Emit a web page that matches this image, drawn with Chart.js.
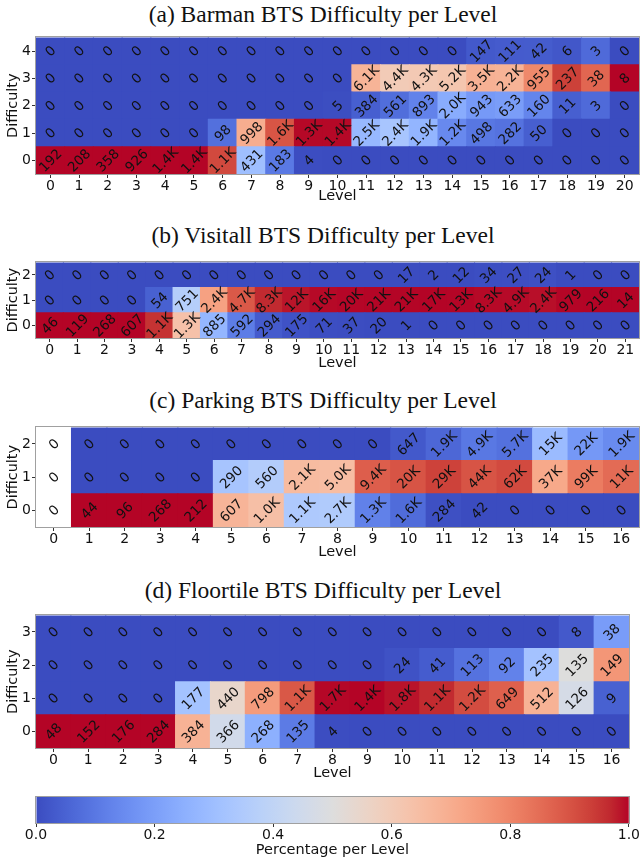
<!DOCTYPE html>
<html>
<head>
<meta charset="utf-8">
<script src="https://cdn.jsdelivr.net/npm/chart.js@4.4.1/dist/chart.umd.min.js"></script>
<style>
  body { margin: 0; background: #fff; width: 640px; height: 863px; position: relative; overflow: hidden; }
  .title { position: absolute; left: 0; width: 646px; text-align: center; font-family: "Liberation Serif", serif; font-size: 23.5px; line-height: 28px; color: #111; }
  canvas { position: absolute; left: 0; }
</style>
</head>
<body>
<div class="title" style="top:0px">(a) Barman BTS Difficulty per Level</div>
<div class="title" style="top:221px">(b) Visitall BTS Difficulty per Level</div>
<div class="title" style="top:386px">(c) Parking BTS Difficulty per Level</div>
<div class="title" style="top:576px">(d) Floortile BTS Difficulty per Level</div>
<script>
// ---- data: counts[difficulty][level] ----
const barmanLevels = ["0","1","2","3","4","5","6","7","8","9","10","11","12","13","14","15","16","17","18","19","20"];
const barmanDifficulties = [0, 1, 2, 3, 4];
const barmanCounts = [
  [192, 208, 358, 926, 1400, 1400, 1100, 431, 183, 4, 0, 0, 0, 0, 0, 0, 0, 0, 0, 0, 0],
  [0, 0, 0, 0, 0, 0, 98, 998, 1600, 1300, 1400, 2500, 2400, 1900, 1200, 498, 282, 50, 0, 0, 0],
  [0, 0, 0, 0, 0, 0, 0, 0, 0, 0, 5, 384, 561, 893, 2000, 943, 633, 160, 11, 3, 0],
  [0, 0, 0, 0, 0, 0, 0, 0, 0, 0, 0, 6100, 4400, 4300, 5200, 3500, 2200, 955, 237, 38, 8],
  [0, 0, 0, 0, 0, 0, 0, 0, 0, 0, 0, 0, 0, 0, 0, 147, 111, 42, 6, 3, 0]
];

const visitallLevels = ["0","1","2","3","4","5","6","7","8","9","10","11","12","13","14","15","16","17","18","19","20","21"];
const visitallDifficulties = [0, 1, 2];
const visitallCounts = [
  [46, 119, 268, 607, 1100, 1300, 885, 592, 294, 175, 71, 37, 20, 1, 0, 0, 0, 0, 0, 0, 0, 0],
  [0, 0, 0, 0, 54, 751, 2400, 4700, 8300, 12000, 16000, 20000, 21000, 21000, 17000, 13000, 8300, 4900, 2400, 979, 216, 14],
  [0, 0, 0, 0, 0, 0, 0, 0, 0, 0, 0, 0, 0, 17, 2, 12, 34, 27, 24, 1, 0, 0]
];

const parkingLevels = ["0","1","2","3","4","5","6","7","8","9","10","11","12","13","14","15","16"];
const parkingDifficulties = [0, 1, 2];
const parkingCounts = [
  [0, 44, 96, 268, 212, 607, 1000, 1100, 2700, 1300, 1600, 284, 42, 0, 0, 0, 0],
  [0, 0, 0, 0, 0, 290, 560, 2100, 5000, 9400, 20000, 29000, 44000, 62000, 37000, 99000, 11000],
  [0, 0, 0, 0, 0, 0, 0, 0, 0, 0, 647, 1900, 4900, 5700, 15000, 22000, 1900]
];

const floortileLevels = ["0","1","2","3","4","5","6","7","8","9","10","11","12","13","14","15","16"];
const floortileDifficulties = [0, 1, 2, 3];
const floortileCounts = [
  [48, 152, 176, 284, 384, 366, 268, 135, 4, 0, 0, 0, 0, 0, 0, 0, 0],
  [0, 0, 0, 0, 177, 440, 798, 1100, 1700, 1400, 1800, 1100, 1200, 649, 512, 126, 9],
  [0, 0, 0, 0, 0, 0, 0, 0, 0, 0, 24, 41, 113, 92, 235, 135, 149],
  [0, 0, 0, 0, 0, 0, 0, 0, 0, 0, 0, 0, 0, 0, 0, 8, 38]
];

const colorbarTicks = [0, 0.2, 0.4, 0.6, 0.8, 1.0];

// matplotlib "coolwarm" (Moreland) control points
const coolwarm = [
  [59,76,192],[68,90,204],[77,104,215],[87,117,225],[98,130,234],[108,142,241],[119,154,247],
  [130,165,251],[141,176,254],[152,185,255],[163,194,255],[174,201,253],[184,208,249],
  [194,213,244],[204,217,238],[213,219,230],[221,221,221],[229,216,209],[236,211,197],
  [241,204,185],[245,196,173],[247,187,160],[247,177,148],[247,166,135],[244,154,123],
  [241,141,111],[236,127,99],[229,112,88],[222,96,77],[213,80,66],[203,62,56],[192,40,47],[180,4,38]
];

function cmap(t) {
  const p = Math.min(Math.max(t, 0), 1) * (coolwarm.length - 1);
  const i = Math.min(Math.floor(p), coolwarm.length - 2);
  const f = p - i;
  const a = coolwarm[i], b = coolwarm[i + 1];
  return "rgb(" + [0, 1, 2].map(k => Math.round(a[k] + (b[k] - a[k]) * f)).join(",") + ")";
}

function fmtCount(v) {
  if (v >= 10000) return Math.round(v / 1000) + "K";
  if (v >= 1000) return (v / 1000).toFixed(1) + "K";
  return String(v);
}

const FONT = "DejaVu Sans";

// write the count in every cell, rotated like the original
const cellLabels = {
  id: "cellLabels",
  afterDatasetsDraw(chart) {
    const ctx = chart.ctx;
    ctx.save();
    ctx.font = "13.5px '" + FONT + "'";
    ctx.fillStyle = "#111";
    ctx.textAlign = "center";
    ctx.textBaseline = "middle";
    chart.data.datasets.forEach((ds, di) => {
      if (!ds.counts) return;
      chart.getDatasetMeta(di).data.forEach((el, i) => {
        ctx.save();
        ctx.translate(el.x, (el.y + el.base) / 2);
        ctx.rotate(-Math.PI / 4);
        ctx.fillText(fmtCount(ds.counts[i]), 0, 1);
        ctx.restore();
      });
    });
    ctx.restore();
  }
};

// thin frame round the plot (matplotlib spines)
const frame = {
  id: "frame",
  afterDraw(chart) {
    const a = chart.chartArea, ctx = chart.ctx;
    ctx.save();
    ctx.strokeStyle = "#a0a0a0";
    ctx.lineWidth = 1;
    ctx.strokeRect(Math.round(a.left) - 0.5, Math.round(a.top) - 0.5,
      Math.round(a.right - a.left) + 1, Math.round(a.bottom - a.top) + 1);
    ctx.restore();
  }
};

function addCanvas(top, height) {
  const c = document.createElement("canvas");
  c.width = 640;
  c.height = height;
  c.style.top = top + "px";
  document.body.appendChild(c);
  return c;
}

function heatmap(top, plotHeight, xAxisHeight, rightPad, levels, difficulties, counts) {
  const canvas = addCanvas(top, 2 + plotHeight + xAxisHeight);
  const totals = levels.map((_, i) => counts.reduce((s, row) => s + row[i], 0));
  const datasets = difficulties.map((d, di) => ({
    data: counts[di].map(() => [d - 0.5, d + 0.5]),
    counts: counts[di],
    backgroundColor: counts[di].map((v, i) => totals[i] ? cmap(v / totals[i]) : "rgba(255,255,255,0)"),
    borderWidth: 0,
    barPercentage: 1,
    categoryPercentage: 1,
    inflateAmount: 0.5,
    grouped: false
  }));
  new Chart(canvas, {
    type: "bar",
    data: { labels: levels, datasets: datasets },
    options: {
      responsive: false,
      animation: false,
      devicePixelRatio: 1,
      layout: { padding: { left: 5, right: rightPad, top: 2, bottom: 0 } },
      plugins: { legend: { display: false }, tooltip: { enabled: false } },
      scales: {
        x: {
          type: "category",
          offset: true,
          grid: { drawOnChartArea: false, offset: false, tickLength: 4, color: "#333" },
          border: { display: false },
          ticks: { color: "#111", padding: 0, maxRotation: 0, autoSkip: false, font: { family: FONT, size: 14 } },
          title: { display: true, text: "Level", color: "#111", padding: 0, font: { family: FONT, size: 14.5 } },
          afterFit(scale) { scale.height = xAxisHeight; }
        },
        y: {
          type: "linear",
          min: -0.5,
          max: difficulties.length - 0.5,
          afterBuildTicks(scale) { scale.ticks = difficulties.map(d => ({ value: d })); },
          grid: { drawOnChartArea: false, tickLength: 4, color: "#333" },
          border: { display: false },
          ticks: { color: "#111", padding: 1, font: { family: FONT, size: 14 } },
          title: { display: true, text: "Difficulty", color: "#111", padding: 0, font: { family: FONT, size: 14.5 } },
          afterFit(scale) { scale.width = 31; }
        }
      }
    },
    plugins: [cellLabels, frame]
  });
}

heatmap(28, 144, 31, 1, barmanLevels, barmanDifficulties, barmanCounts);
heatmap(253, 83, 34, 1, visitallLevels, visitallDifficulties, visitallCounts);
heatmap(418, 107, 34, 1, parkingLevels, parkingDifficulties, parkingCounts);
heatmap(606, 140, 34, 11, floortileLevels, floortileDifficulties, floortileCounts);

// ---- colour bar ----
const cbCanvas = addCanvas(795, 64);
new Chart(cbCanvas, {
  type: "bar",
  data: {
    labels: [""],
    datasets: [{
      data: [[0, 1]],
      backgroundColor(ctx) {
        const area = ctx.chart.chartArea;
        if (!area) return "#ccc";
        const g = ctx.chart.ctx.createLinearGradient(area.left, 0, area.right, 0);
        coolwarm.forEach((c, i) => g.addColorStop(i / (coolwarm.length - 1), "rgb(" + c.join(",") + ")"));
        return g;
      },
      borderWidth: 0,
      barPercentage: 1,
      categoryPercentage: 1,
      inflateAmount: 0
    }]
  },
  options: {
    indexAxis: "y",
    responsive: false,
    animation: false,
    devicePixelRatio: 1,
    layout: { padding: { left: 36, right: 11, top: 2, bottom: 0 } },
    plugins: { legend: { display: false }, tooltip: { enabled: false } },
    scales: {
      x: {
        type: "linear",
        min: 0,
        max: 1,
        afterBuildTicks(scale) { scale.ticks = colorbarTicks.map(v => ({ value: v })); },
        grid: { drawOnChartArea: false, tickLength: 4, color: "#333" },
        border: { display: false },
        ticks: { color: "#111", padding: 0, maxRotation: 0, font: { family: FONT, size: 14 }, callback: v => v.toFixed(1) },
        title: { display: true, text: "Percentage per Level", color: "#111", padding: 0, font: { family: FONT, size: 14.5 } },
        afterFit(scale) { scale.height = 36; }
      },
      y: { display: false }
    }
  },
  plugins: [frame]
});
</script>
</body>
</html>
